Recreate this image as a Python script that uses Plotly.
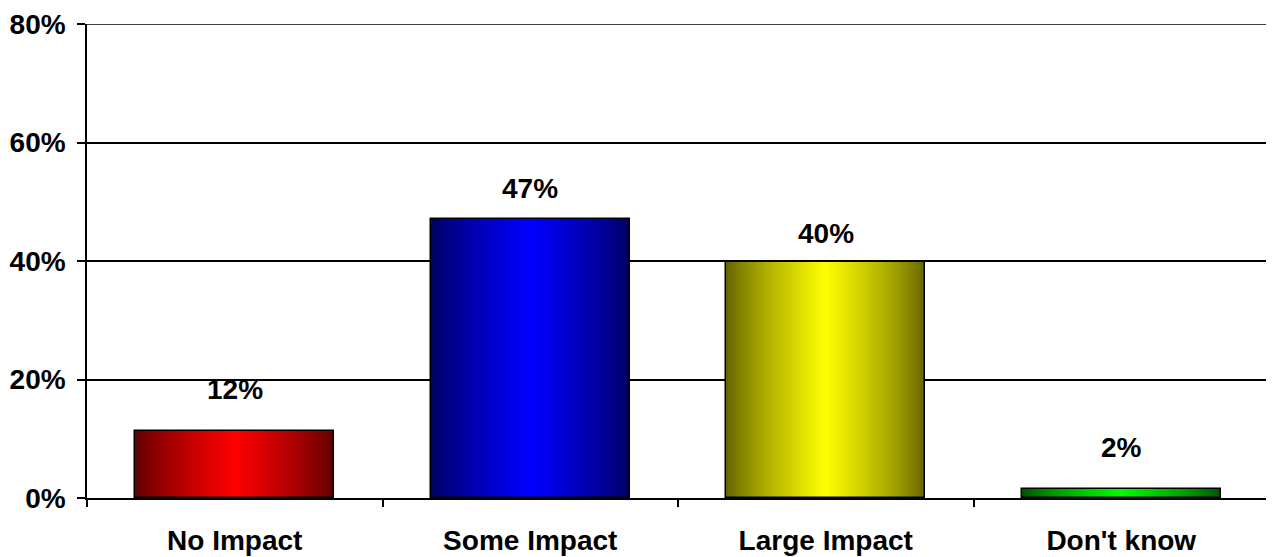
import plotly.graph_objects as go

categories = ["No Impact", "Some Impact", "Large Impact", "Don't know"]
values = [11.3, 47.1, 39.8, 1.6]
labels = ["12%", "47%", "40%", "2%"]
tick_vals = [0, 20, 40, 60, 80]
tick_text = ["0%", "20%", "40%", "60%", "80%"]

# styling
edge_rgb = [(96, 0, 0), (0, 0, 96), (100, 100, 0), (0, 80, 0)]
center_rgb = [(255, 0, 0), (0, 0, 255), (255, 255, 0), (0, 255, 0)]
label_shift = [42, 30, 29, 41]
bar_width = 0.672
n_layers = 50
FONT = "Liberation Sans, Arial, sans-serif"

fig = go.Figure()

for i in range(n_layers):
    t = i / (n_layers - 1)          # 0 = outer edge, 1 = centre
    w = bar_width * (1 - t) + 0.004 * t
    cols = []
    for e, c in zip(edge_rgb, center_rgb):
        f = t ** 0.8
        cols.append("rgb({},{},{})".format(*[round(a + (b - a) * f) for a, b in zip(e, c)]))
    fig.add_trace(go.Bar(
        x=categories, y=values, width=w,
        marker=dict(color=cols, line=dict(width=0)),
        hoverinfo="skip", showlegend=False,
    ))

# outline
fig.add_trace(go.Bar(
    x=categories, y=values, width=bar_width,
    marker=dict(color="rgba(0,0,0,0)", line=dict(color="black", width=1.5)),
    showlegend=False,
))

for cat, v, lab, s in zip(categories, values, labels, label_shift):
    fig.add_annotation(x=cat, y=v, text=lab, showarrow=False,
                       yanchor="middle", yshift=s,
                       font=dict(family=FONT, size=28, color="black", weight="bold"))

# top gridline at the range edge
fig.add_shape(type="line", xref="paper", yref="y", x0=0, x1=1, y0=tick_vals[-1], y1=tick_vals[-1],
              line=dict(color="black", width=1.5), layer="below")

# page body has an 8px margin, so the figure is sized/offset to compensate
fig.update_layout(
    width=1266, height=549,
    margin=dict(l=79, r=5, t=16, b=59),
    paper_bgcolor="white", plot_bgcolor="white",
    barmode="overlay", bargap=0,
    font=dict(family=FONT, size=28, color="black", weight="bold"),
)
fig.update_xaxes(
    type="category", tickson="boundaries", ticks="outside", ticklen=7,
    tickcolor="black", tickwidth=1.5, showline=True, linecolor="black", linewidth=2,
    showgrid=False, tickfont=dict(size=28, weight="bold"), ticklabelstandoff=16,
    automargin=False,
)
fig.update_yaxes(
    range=[0, 80], tickvals=tick_vals, ticktext=tick_text,
    ticks="outside", ticklen=8, tickcolor="black", tickwidth=1.5,
    showline=True, linecolor="black", linewidth=1.5,
    showgrid=True, gridcolor="black", gridwidth=1.5, zeroline=False,
    tickfont=dict(size=28, weight="bold"), ticklabelstandoff=6,
    automargin=False,
)

fig.write_html("out.html")
